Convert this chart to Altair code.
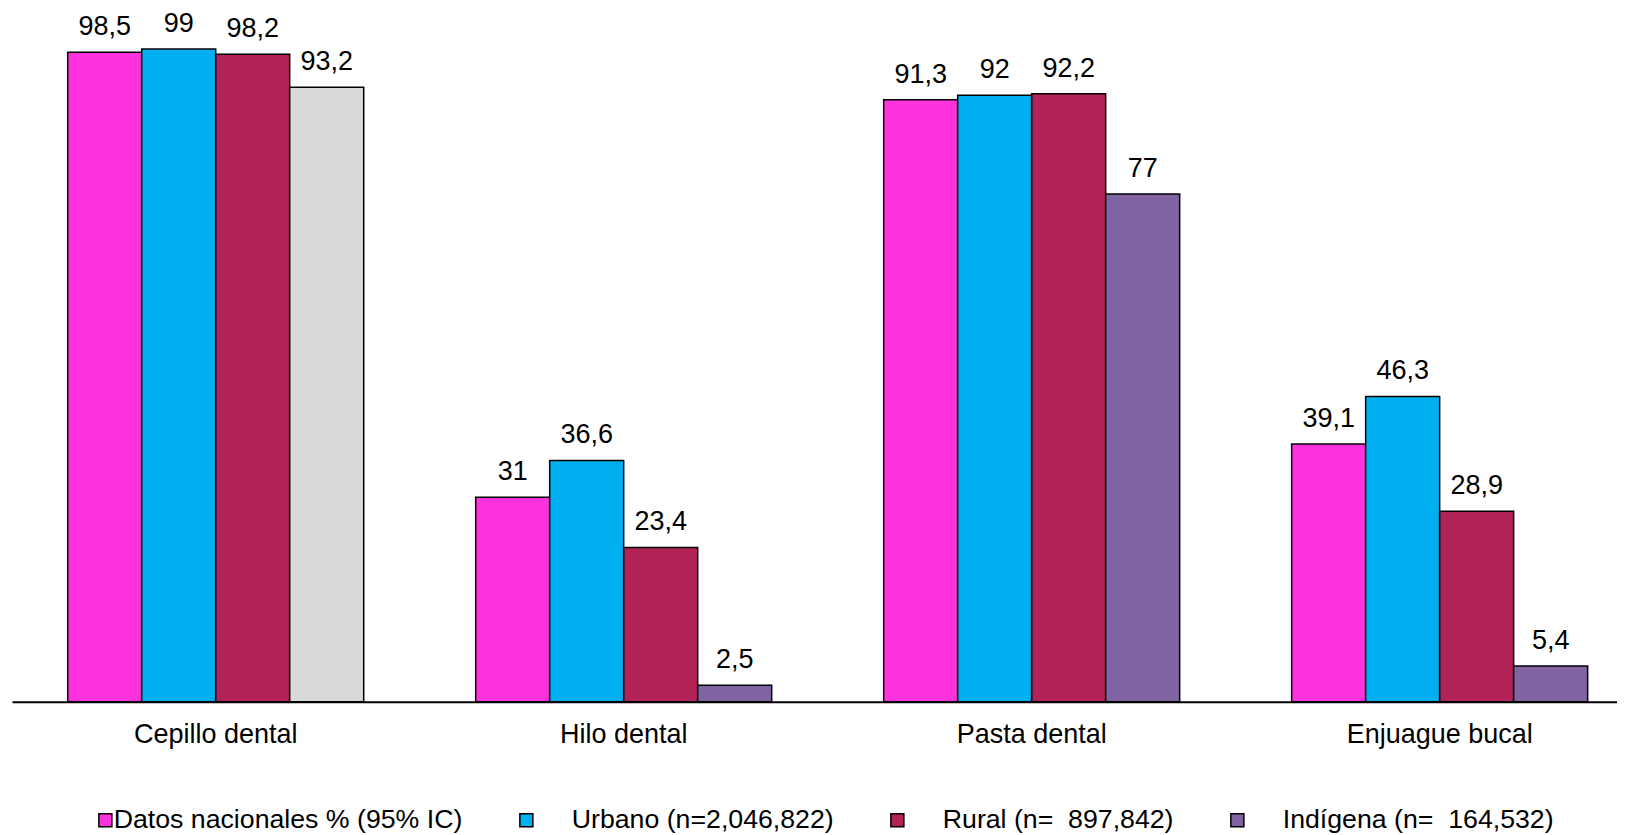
import altair as alt
import pandas as pd

NB = "\u00a0"
ZW = "\u200b"
categories = ["Cepillo dental", "Hilo dental", "Pasta dental", "Enjuague bucal"]
series = ["Datos nacionales % (95% IC)",
          ZW + NB * 5 + "Urbano (n=2,046,822)",
          ZW + NB * 5 + "Rural (n=" + NB * 2 + "897,842)",
          ZW + NB * 5 + "Indígena (n=" + NB * 2 + "164,532)"]
colors = ["#FF33DD", "#00B0F0", "#B22357", "#8064A2"]
nacional = [98.5, 31, 91.3, 39.1]
urbano = [99, 36.6, 92, 46.3]
rural = [98.2, 23.4, 92.2, 28.9]
indigena = [93.2, 2.5, 77, 5.4]

rows = []
for i, c in enumerate(categories):
    for s, vals in zip(series, [nacional, urbano, rural, indigena]):
        rows.append({"cat": c, "series": s, "value": vals[i]})
df = pd.DataFrame(rows)

FONT = "Liberation Sans"

x = alt.X("cat:N", sort=categories,
          scale=alt.Scale(paddingInner=0.2745, paddingOuter=0.1042, align=0.655),
          axis=alt.Axis(title=None, labelAngle=0, ticks=False, domain=True,
                        domainColor="black", domainWidth=2, labelFontSize=27,
                        labelFont=FONT, labelColor="black", labelPadding=20,
                        labelLimit=0, grid=False))
xo = alt.XOffset("series:N", sort=series, scale=alt.Scale(paddingInner=0, paddingOuter=0))
y = alt.Y("value:Q", scale=alt.Scale(domain=[0, 100], nice=False, zero=True), axis=None)

color = alt.condition(
    "datum.cat == 'Cepillo dental' && indexof(datum.series, 'Ind') >= 0",
    alt.value("#D9D9D9"),
    alt.Color("series:N", sort=series,
              scale=alt.Scale(domain=series, range=colors),
              legend=alt.Legend(orient="none", legendX=68, legendY=764,
                                direction="horizontal", title=None,
                                symbolType="M-0.23,-1 H1.77 V1 H-0.23 Z",
                                symbolSize=169,
                                symbolStrokeColor="black", symbolStrokeWidth=1.5,
                                symbolOpacity=1, symbolOffset=7,
                                labelFontSize=26.7, labelFont=FONT,
                                labelColor="black", columnPadding=38,
                                labelOffset=0, labelLimit=0, padding=0))
)

bars = alt.Chart(df).mark_bar(stroke="black", strokeWidth=1.5, opacity=1).encode(
    x=x, xOffset=xo, y=y, color=color
)

text = alt.Chart(df).transform_calculate(
    label="replace(toString(datum.value), '.', ',')"
).mark_text(fontSize=27, font=FONT, color="black", baseline="alphabetic",
            align="center", dy=-17).encode(
    x=x, xOffset=xo, y=y, text="label:N"
)

chart = alt.layer(bars, text).properties(
    width=1605, height=659.3,
    autosize=alt.AutoSizeParams(type="none"),
    padding={"left": 4, "top": 34.4, "right": 0, "bottom": 133},
).configure_view(stroke=None)

chart.save("out.html", embed_options={"renderer": "svg", "actions": False})
